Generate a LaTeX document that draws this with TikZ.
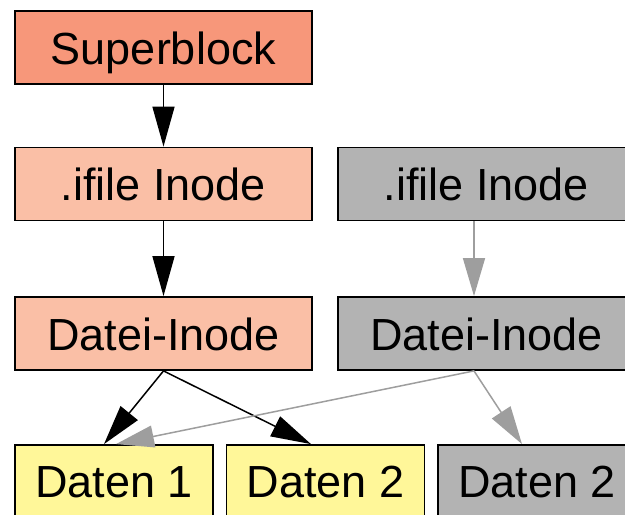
\documentclass[tikz,border=0pt]{standalone}
\usepackage{fontspec}
\setmainfont{Liberation Sans}
\usetikzlibrary{arrows.meta}
\definecolor{sbfill}{HTML}{F7977A}
\definecolor{inofill}{HTML}{FABFA6}
\definecolor{datfill}{HTML}{FFF799}
\definecolor{grfill}{HTML}{B3B3B3}
\definecolor{edgegray}{HTML}{9E9E9E}
\tikzset{
  box/.style={draw=black, line width=1.8pt, rectangle, inner sep=0pt,
    font=\fontsize{45}{54}\selectfont, text height=33pt, text depth=0pt},
  wide/.style={box, minimum width=297pt, minimum height=73pt},
  narrow/.style={box, minimum width=198pt, minimum height=72pt},
  blackedge/.style={draw=black, line width=1.5pt, -{Triangle[length=40pt,width=22pt]}},
  grayedge/.style={draw=edgegray, line width=1.5pt, -{Triangle[length=38pt,width=22pt]}}
}
\begin{document}
\begin{tikzpicture}[x=1pt,y=1pt]
\useasboundingbox (0,0) rectangle (625,-515);
\clip (0,0) rectangle (625,-515);
\node[wide, fill=sbfill] (sb) at (163.5,-47.5) {Superblock};
\node[wide, fill=inofill] (if1) at (163.5,-184) {.ifile Inode};
\node[wide, fill=inofill] (di1) at (163.5,-333.5) {Datei-Inode};
\node[wide, fill=grfill] (if2) at (486.5,-184) {.ifile Inode};
\node[wide, fill=grfill] (di2) at (486.5,-333.5) {Datei-Inode};
\node[narrow, fill=datfill] (d1) at (114,-481) {Daten 1};
\node[narrow, fill=datfill] (d2) at (325.5,-481) {Daten 2};
\node[narrow, fill=grfill] (gd2) at (537,-481) {Daten 2};
\draw[blackedge] (sb.south) -- (if1.north);
\draw[blackedge] (if1.south) -- (di1.north);
\draw[grayedge] ([xshift=-12.5pt]if2.south) -- ([xshift=-12.5pt]di2.north);
\draw[blackedge] (di1.south) -- ([xshift=-10pt]d1.north);
\draw[blackedge] (di1.south) -- ([xshift=-14.5pt]d2.north);
\draw[grayedge] ([xshift=-12.5pt]di2.south) -- ([xshift=2pt]d1.north);
\draw[grayedge] ([xshift=-12.5pt]di2.south) -- ([xshift=-15pt]gd2.north);
\end{tikzpicture}
\end{document}
